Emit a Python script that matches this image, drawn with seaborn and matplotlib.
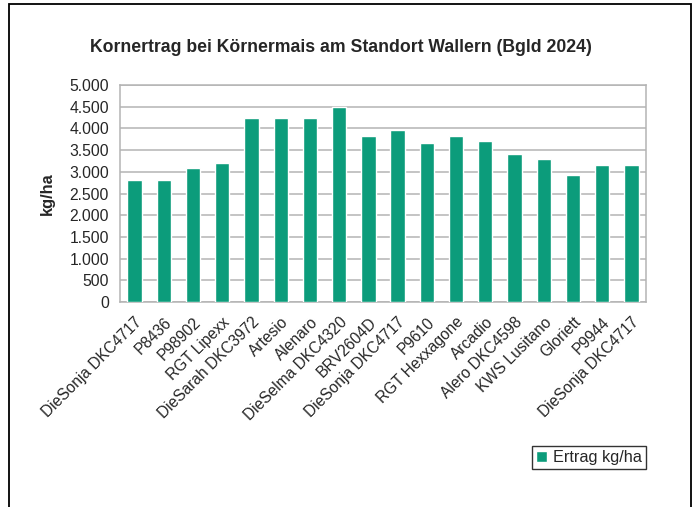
import matplotlib
matplotlib.use("Agg")
import matplotlib.pyplot as plt
import matplotlib.patches as mpatches
from matplotlib.ticker import FuncFormatter
import seaborn as sns
import pandas as pd

sorten = ["DieSonja DKC4717", "P8436", "P98902", "RGT Lipexx", "DieSarah DKC3972",
          "Artesio", "Alenaro", "DieSelma DKC4320", "BRV2604D", "DieSonja DKC4717",
          "P9610", "RGT Hexxagone", "Arcadio", "Alero DKC4598", "KWS Lusitano",
          "Gloriett", "P9944", "DieSonja DKC4717"]
ertrag = [2800, 2800, 3090, 3200, 4250, 4250, 4250, 4500, 3830, 3960,
          3670, 3830, 3710, 3420, 3290, 2920, 3160, 3160]
y_ticks = [0, 500, 1000, 1500, 2000, 2500, 3000, 3500, 4000, 4500, 5000]
title = "Kornertrag bei Körnermais am Standort Wallern (Bgld 2024)"
y_label = "kg/ha"
series_name = "Ertrag kg/ha"

sns.set_style("white")
plt.rcParams['font.family'] = ['Liberation Sans', 'DejaVu Sans']

df = pd.DataFrame({"pos": list(range(len(sorten))), "ertrag": ertrag})

fig = plt.figure(figsize=(6.96, 5.07), dpi=100)
ax = fig.add_axes([120/696, 1-302/507, (646-120)/696, (302-85)/507])

color = "#0c9c7b"
sns.barplot(data=df, x="pos", y="ertrag", color=color, width=0.49,
            saturation=1, label=series_name, ax=ax, zorder=3)

ax.set_ylim(0, 5000)
ax.set_xlim(-0.5, len(sorten)-0.5)
ax.set_yticks(y_ticks)
ax.yaxis.set_major_formatter(FuncFormatter(lambda v, p: f"{int(v):,}".replace(",", ".")))
ax.set_xticks(range(len(sorten)))
ax.set_xticklabels(sorten, rotation=45, ha="right", rotation_mode="anchor", fontsize=11.2)
ax.tick_params(axis="y", labelsize=11.3, length=5, color="#a0a0a0", width=1, direction="out", pad=3)
ax.tick_params(axis="x", length=0, pad=9)
ax.yaxis.grid(True, color="#b4b4b4", lw=1.1, zorder=0)
ax.set_axisbelow(True)
for s in ax.spines.values():
    s.set_visible(True)
    s.set_color("#b4b4b4")
    s.set_linewidth(1.1)
ax.set_xlabel("")
ax.set_ylabel(y_label, fontsize=11.8, fontweight="bold", labelpad=10)

fig.text(341/696, 1-47/507, title, ha="center", va="center", fontsize=12.7, fontweight="bold")

leg = ax.legend(loc="upper right", bbox_to_anchor=(1.0, (302-446)/(302-85)),
                frameon=True, fontsize=11.7, handlelength=0.65, handleheight=0.65,
                handletextpad=0.4, borderpad=0.25, fancybox=False, borderaxespad=0)
leg.get_frame().set_edgecolor("black")
leg.get_frame().set_linewidth(1.0)

rect = mpatches.Rectangle((9/696, -0.1), (691-9)/696, 0.1 + 1-4/507, transform=fig.transFigure,
                          fill=False, edgecolor="black", lw=1.3, clip_on=False)
fig.patches.append(rect)

fig.savefig("out.png", dpi=100)
